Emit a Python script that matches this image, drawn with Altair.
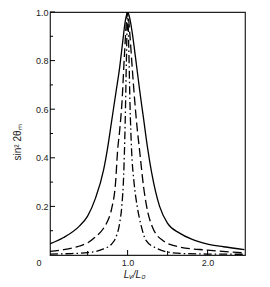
import altair as alt
import pandas as pd

# Curve readings (x = L_v/L_0, y = sin^2 2theta_m)
solid_x = [0.03, 0.2, 0.4, 0.5, 0.6, 0.7, 0.75, 0.8, 0.85, 0.9, 0.94, 0.97, 1.0, 1.03, 1.06, 1.1, 1.15, 1.2, 1.25, 1.3, 1.4, 1.5, 1.65, 1.8, 2.0, 2.2, 2.46]
solid_y = [0.046, 0.072, 0.12, 0.16, 0.235, 0.35, 0.44, 0.55, 0.66, 0.77, 0.88, 0.96, 1.0, 0.97, 0.91, 0.81, 0.68, 0.56, 0.44, 0.34, 0.2, 0.13, 0.09, 0.065, 0.045, 0.034, 0.022]

dash_x = [0.03, 0.2, 0.4, 0.5, 0.6, 0.7, 0.75, 0.8, 0.85, 0.875, 0.9, 0.93, 0.96, 1.0, 1.03, 1.06, 1.09, 1.12, 1.15, 1.2, 1.25, 1.31, 1.44, 1.65, 2.0, 2.46]
dash_y = [0.015, 0.022, 0.037, 0.05, 0.075, 0.11, 0.14, 0.19, 0.3, 0.43, 0.51, 0.63, 0.82, 1.0, 0.9, 0.76, 0.63, 0.52, 0.43, 0.28, 0.18, 0.115, 0.06, 0.033, 0.02, 0.009]

dashdot_x = [0.03, 0.3, 0.5, 0.7, 0.8, 0.85, 0.9, 0.93, 0.95, 0.97, 0.985, 1.0, 1.015, 1.03, 1.05, 1.08, 1.12, 1.17, 1.23, 1.36, 1.5, 1.7, 2.0, 2.46]
dashdot_y = [0.004, 0.006, 0.01, 0.025, 0.045, 0.07, 0.13, 0.21, 0.32, 0.55, 0.8, 1.0, 0.85, 0.62, 0.43, 0.3, 0.2, 0.12, 0.06, 0.028, 0.012, 0.006, 0.004, 0.003]

y_major = [0.2, 0.4, 0.6, 0.8, 1.0]
y_minor = [0.1, 0.3, 0.5, 0.7, 0.9]
x_major = [1.0, 2.0]
x_minor = [0.5, 1.5]
origin_label = ["0"]

FONT = "Liberation Sans"
W, H = 195, 243
xscale = alt.Scale(domain=[0.03, 2.4675], nice=False, zero=False)
yscale = alt.Scale(domain=[0, 1.0], nice=False)

xaxis = alt.Axis(
    values=x_major, format=".1f", ticks=False, domain=False, grid=False,
    labelFont=FONT, labelFontSize=9, labelPadding=3, labelColor="#222",
    title="Lᵥ/L₀", titleFont=FONT, titleFontSize=10, titleFontStyle="italic",
    titleFontWeight="normal", titleX=84, titleY=14, titleColor="#222")
yaxis = alt.Axis(
    values=y_major, format=".1f", ticks=False, domain=False, grid=False,
    labelFont=FONT, labelFontSize=9, labelPadding=2, labelColor="#222",
    title="sin² 2θₘ", titleFont=FONT, titleFontSize=10, titleFontWeight="normal",
    titleX=-28, titleY=130, titleColor="#222")

def X(field):
    return alt.X(field, type="quantitative", scale=xscale, axis=xaxis, title="Lᵥ/L₀")

def Y(field):
    return alt.Y(field, type="quantitative", scale=yscale, axis=yaxis, title="sin² 2θₘ")

def curve(xs, ys, dash=None):
    df = pd.DataFrame({"x": xs, "y": ys})
    kw = dict(color="black", strokeWidth=1.3, interpolate="monotone", clip=True)
    if dash:
        kw["strokeDash"] = dash
    return alt.Chart(df).mark_line(**kw).encode(x=X("x"), y=Y("y"))

solid = curve(solid_x, solid_y)
dashed = curve(dash_x, dash_y, [9, 4])
dashdot = curve(dashdot_x, dashdot_y, [8, 3, 1.5, 3])

ymaj = alt.Chart(pd.DataFrame({"y": y_major})).mark_rule(color="black", strokeWidth=1).encode(
    y=Y("y"), x=alt.value(0), x2=alt.value(5))
ymin = alt.Chart(pd.DataFrame({"y": y_minor})).mark_rule(color="black", strokeWidth=1).encode(
    y=Y("y"), x=alt.value(0), x2=alt.value(3))
xmaj = alt.Chart(pd.DataFrame({"x": x_major})).mark_rule(color="black", strokeWidth=1).encode(
    x=X("x"), y=alt.value(H), y2=alt.value(H - 5))
xmin = alt.Chart(pd.DataFrame({"x": x_minor})).mark_rule(color="black", strokeWidth=1).encode(
    x=X("x"), y=alt.value(H), y2=alt.value(H - 4))
zero = alt.Chart(pd.DataFrame({"t": origin_label, "x": [0.03]})).mark_text(
    font=FONT, fontSize=9, color="#222", dx=-11, dy=8).encode(
    x=X("x"), y=alt.value(H), text="t:N")

chart = alt.layer(solid, dashed, dashdot, ymaj, ymin, xmaj, xmin, zero).properties(
    width=W, height=H,
    padding={"left": 42, "top": 4, "right": 10, "bottom": 28},
    autosize=alt.AutoSizeParams(type="none"),
).configure_view(stroke="#222", strokeWidth=1.2)

chart.save("out.html", embed_options={"renderer": "svg", "actions": False})
